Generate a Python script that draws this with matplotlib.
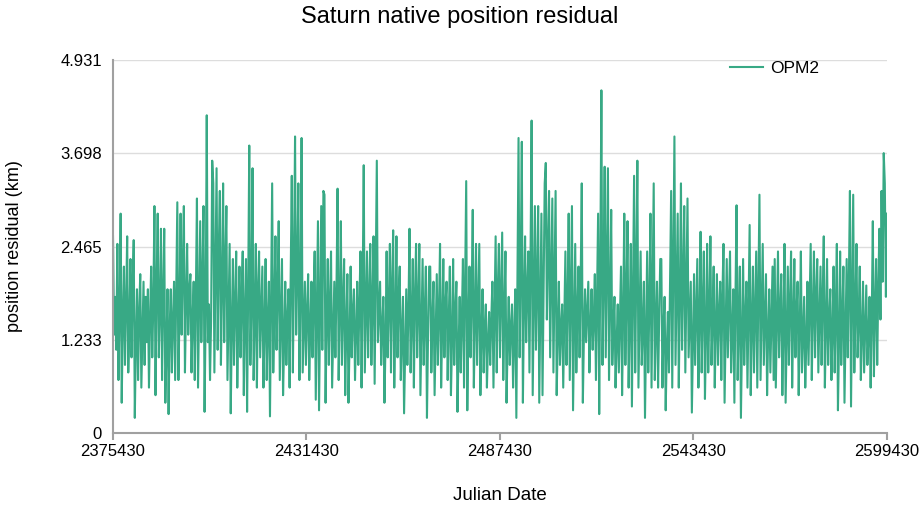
import numpy as np
import matplotlib
matplotlib.use("Agg")
import matplotlib.pyplot as plt

plt.rcParams['font.family'] = ['Liberation Sans', 'DejaVu Sans']

title = "Saturn native position residual"
series_name = "OPM2"
x_label = "Julian Date"
y_label = "position residual (km)"

jd_start = 2375430
jd_end = 2599430
x_ticks = [2375430, 2431430, 2487430, 2543430, 2599430]
y_ticks = [0, 1.233, 2.465, 3.698, 4.931]
y_tick_labels = ["0", "1.233", "2.465", "3.698", "4.931"]

seg1 = [2.6, 1.3, 1.8, 1.1, 2.5, 0.7, 1.6, 2.9, 0.4, 1.5, 2.2, 0.9, 1.7, 2.6, 0.8, 1.4, 2.3, 1.0,
        1.9, 2.55, 0.2, 1.2, 1.9, 0.7, 1.6, 2.1, 0.6, 1.3, 2.0, 0.9, 1.8, 1.2, 1.9, 0.6, 1.5, 2.2,
        1.0, 1.7, 3.0, 0.5, 1.9, 2.9, 1.0, 1.6, 2.7, 0.7, 1.8, 2.7, 0.4, 1.1, 1.9, 0.25, 1.4, 1.9,
        0.8, 1.5, 2.0, 0.7, 1.9, 3.05, 0.7, 1.6, 2.9, 1.3, 2.2, 3.0, 0.8, 1.7, 2.5, 1.3, 1.9, 2.1,
        0.8, 1.5, 2.0, 0.7, 1.8, 3.1, 0.6, 1.7, 2.8, 1.2, 2.0, 3.0, 0.28, 1.6, 4.2, 1.2, 1.7, 0.7,
        1.5, 3.6]
seg2 = [3.3, 0.8, 2.1, 3.5, 1.1, 2.4, 3.2, 0.9, 1.9, 3.3, 1.2, 2.2, 3.0, 0.7, 1.6, 2.5, 0.26, 1.4,
        2.3, 0.9, 1.7, 2.4, 0.6, 1.5, 2.2, 1.0, 1.8, 2.4, 0.5, 1.6, 2.3, 0.28, 1.9, 3.8, 0.9, 1.7,
        3.5, 0.7, 1.5, 2.5, 0.6, 1.9, 2.4, 1.0, 1.6, 2.2, 0.6, 1.4, 2.3, 0.7, 1.5, 2.0, 0.22, 1.8,
        3.3, 0.8, 1.6, 2.6, 1.1, 1.9, 2.8, 0.7, 1.5, 2.3, 0.5, 1.2, 2.0, 0.9, 1.5, 1.9, 0.6, 2.1,
        3.4, 0.8, 2.2, 3.92, 1.3, 2.1, 3.3, 0.7, 1.8, 3.9, 0.8, 1.4, 2.0, 0.9, 1.6, 2.1, 0.7, 1.4,
        2.0, 1.0, 1.8, 2.4, 0.44, 1.6, 2.8, 0.3, 1.7, 3.0, 1.1, 3.2]
seg3 = [3.15, 0.4, 1.5, 2.3, 0.9, 1.7, 2.4, 0.6, 1.3, 2.0, 1.0, 1.9, 3.23, 0.7, 1.6, 2.8, 0.9, 1.7,
        2.3, 0.5, 1.4, 2.1, 0.4, 1.2, 2.2, 1.0, 1.6, 1.9, 0.7, 1.3, 2.0, 0.9, 1.7, 2.4, 0.6, 1.9,
        3.54, 0.8, 1.6, 2.4, 1.0, 1.8, 2.5, 0.9, 1.7, 2.6, 0.65, 2.1, 3.6, 1.2, 1.6, 2.0, 0.9, 1.4,
        1.8, 0.4, 1.2, 2.4, 1.0, 1.7, 2.5, 0.8, 1.9, 2.68, 0.6, 1.5, 2.6, 1.0, 1.8, 2.2, 0.7, 1.3,
        1.8, 0.26, 1.1, 1.9, 0.9, 1.6, 2.7, 0.8, 1.5, 2.3, 0.6, 1.8, 2.5, 1.0, 1.7, 2.5, 0.5, 1.4,
        2.3, 0.9, 1.6, 2.2, 0.2, 1.3, 2.2]
seg4 = [2.2, 0.8, 1.5, 2.0, 0.5, 1.3, 2.1, 0.9, 1.6, 2.5, 0.6, 1.4, 2.3, 1.0, 1.7, 2.0, 0.7, 1.5,
        2.2, 0.5, 1.2, 2.3, 0.9, 1.6, 2.0, 0.28, 1.1, 1.8, 0.8, 1.5, 2.3, 0.6, 1.9, 3.33, 0.3, 1.4,
        2.2, 1.0, 1.8, 2.95, 0.6, 1.5, 2.5, 0.9, 1.7, 2.5, 0.5, 1.3, 1.9, 0.8, 1.4, 1.7, 0.6, 1.2,
        1.6, 0.9, 1.5, 2.0, 0.6, 1.6, 2.6, 0.8, 1.9, 2.5, 1.0, 1.8, 2.65, 0.7, 1.6, 2.4, 0.4, 1.2,
        1.8, 0.9, 1.4, 1.7, 0.6, 1.3, 1.9, 0.2, 2.0, 3.9, 1.0, 2.2, 3.85, 0.4, 1.7, 2.6, 1.2, 1.9,
        2.4, 0.8, 2.3, 4.13, 0.5, 1.8, 3.0, 1.1, 2.0, 3.0, 0.4, 1.6, 2.9, 0.5, 1.9, 3.3]
seg5 = [3.57, 1.5, 2.4, 3.2, 1.0, 2.1, 3.1, 0.8, 2.0, 3.2, 0.5, 1.3, 2.0, 0.9, 1.4, 1.7, 0.6, 1.5,
        2.4, 0.9, 1.7, 2.9, 0.7, 1.8, 3.0, 0.3, 1.4, 2.5, 0.8, 1.6, 2.2, 1.0, 2.0, 3.3, 0.4, 1.3,
        1.9, 1.2, 1.6, 2.0, 0.8, 1.4, 1.9, 1.1, 1.5, 2.1, 0.7, 1.8, 2.9, 0.25, 2.2, 4.53, 0.9, 2.0,
        3.52, 1.0, 2.3, 3.5, 0.7, 1.7, 2.95, 0.9, 1.4, 1.8, 0.6, 1.2, 1.7, 0.8, 1.5, 2.2, 0.5, 1.6,
        2.9, 0.9, 1.8, 2.8, 0.6, 1.5, 2.5, 0.35, 1.9, 3.4, 0.8, 2.1, 3.6, 0.6, 1.5, 2.4, 0.9, 1.4,
        2.0, 0.2, 1.3, 2.4, 0.8, 1.7, 2.9, 0.6, 1.9, 3.3, 0.7, 1.4, 2.0, 0.6, 1.5, 2.3]
seg6 = [2.3, 0.6, 1.4, 1.8, 0.3, 1.1, 1.6, 0.8, 2.0, 3.2, 0.6, 2.2, 3.92, 0.9, 1.9, 2.9, 0.6, 1.8,
        3.3, 1.1, 2.0, 3.0, 0.8, 1.9, 3.1, 1.0, 1.5, 2.0, 0.27, 1.2, 2.1, 0.9, 1.6, 2.3, 0.6, 1.5,
        2.66, 0.8, 1.7, 2.4, 0.45, 1.3, 2.5, 0.8, 1.6, 2.6, 0.9, 1.5, 2.2, 0.6, 1.4, 2.1, 0.9, 1.6,
        2.0, 0.7, 1.8, 2.5, 0.4, 1.4, 2.3, 1.0, 1.7, 2.4, 0.8, 1.3, 1.9, 0.4, 1.8, 3.01, 0.7, 1.5,
        2.2, 0.2, 1.2, 2.3, 0.9, 1.5, 2.0, 0.6, 1.7, 2.75, 0.5, 1.4, 2.2, 0.8, 1.6, 2.4, 0.6, 1.9,
        3.15, 0.7, 1.6, 2.5, 0.9, 1.5, 2.1, 0.5, 1.3, 1.9, 0.8, 1.5, 2.2, 0.7]
seg7 = [2.3, 0.6, 1.5, 2.4, 1.0, 1.6, 2.1, 0.5, 1.4, 2.5, 0.4, 1.3, 2.2, 0.9, 1.7, 2.4, 0.6, 1.5,
        2.3, 1.0, 1.6, 2.0, 0.5, 1.4, 2.4, 0.8, 1.3, 1.8, 0.6, 1.2, 2.0, 0.9, 1.7, 2.5, 0.7, 1.6,
        2.4, 1.0, 1.8, 2.3, 0.8, 1.5, 2.2, 0.9, 1.8, 2.6, 0.6, 1.4, 2.3, 0.9, 1.5, 1.9, 0.7, 1.3,
        2.2, 0.8, 1.6, 2.5, 0.3, 1.2, 2.4, 0.9, 1.5, 2.2, 0.4, 1.4, 2.3, 1.0, 2.0, 3.2, 0.35, 1.8,
        3.15, 0.8, 1.6, 2.5, 1.0, 1.5, 2.2, 0.7, 1.3, 2.0, 0.8, 1.4, 1.95, 0.9, 1.3, 1.8, 0.6, 1.5,
        2.8, 0.75, 1.6, 2.3, 0.9, 1.9, 2.7, 1.5, 3.2, 2.0, 3.7, 3.3, 1.8, 2.9]

residual_km = seg1 + seg2 + seg3 + seg4 + seg5 + seg6 + seg7
julian_dates = np.linspace(jd_start, jd_end, len(residual_km))

line_color = "#38a985"

fig = plt.figure(figsize=(9.2, 5.2), dpi=100)
ax = fig.add_axes([113 / 920, 87 / 520, 774 / 920, 373 / 520])

ax.plot(julian_dates, residual_km, color=line_color, linewidth=1.5, label=series_name)

ax.set_xlim(jd_start, jd_end)
ax.set_ylim(0, 4.931)
ax.set_xticks(x_ticks)
ax.set_xticklabels([str(t) for t in x_ticks], fontsize=12)
ax.set_yticks(y_ticks)
ax.set_yticklabels(y_tick_labels, fontsize=12)

ax.grid(axis='y', color='#dddddd', linewidth=1)
ax.set_axisbelow(True)
for s in ['top', 'right']:
    ax.spines[s].set_visible(False)
for s in ['left', 'bottom']:
    ax.spines[s].set_color('#a0a0a0')
    ax.spines[s].set_linewidth(1.5)
ax.tick_params(axis='y', length=0, pad=8)
ax.tick_params(axis='x', length=5, color='#a0a0a0', width=1.5, pad=3)

ax.set_xlabel(x_label, fontsize=13.5, labelpad=20)
ax.set_ylabel(y_label, fontsize=13, labelpad=27)
fig.text(0.5, 1 - 17 / 520, title, fontsize=17, ha='center', va='center')

ax.legend(loc='upper right', bbox_to_anchor=(0.932, 1.04), frameon=False, fontsize=12.5,
          handlelength=1.9, handletextpad=0.4)

fig.savefig("out.png", dpi=100)
